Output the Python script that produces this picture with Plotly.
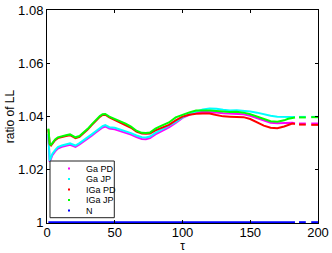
import plotly.graph_objects as go

# ---- data ----
tau = [1, 2, 3, 4, 6, 8, 11, 14, 17, 19, 21, 24, 27, 30, 33, 36, 39, 41, 43, 46,
       50, 54, 58, 62, 66, 70, 73, 76, 80, 83, 86, 90, 95, 100, 105, 110, 115, 120,
       125, 130, 135, 140, 145, 150, 155, 160, 165, 170, 175, 178, 181, 183,
       184, 186, 191, 193, 195, 200]

ga_pd = [1.0328, 1.0227, 1.0240, 1.0253, 1.0267, 1.0278, 1.0284, 1.0287, 1.0292, 1.0288,
         1.0284, 1.0293, 1.0303, 1.0315, 1.0326, 1.0338, 1.0350, 1.0357, 1.0361, 1.0353,
         1.0350, 1.0344, 1.0337, 1.0330, 1.0321, 1.0314, 1.0313, 1.0317, 1.0331, 1.0339,
         1.0347, 1.0357, 1.0374, 1.0393, 1.0405, 1.0413, 1.0416, 1.0416, 1.0414, 1.0411,
         1.0410, 1.0410, 1.0407, 1.0401, 1.0392, 1.0382, 1.0375, 1.0373, 1.0375, 1.0376,
         1.0375, 1.0373, None, 1.0372, 1.0372, None, 1.0372, 1.0372]

ga_jp = [1.0333, 1.0232, 1.0245, 1.0258, 1.0272, 1.0283, 1.0289, 1.0292, 1.0297, 1.0293,
         1.0289, 1.0298, 1.0308, 1.0320, 1.0331, 1.0343, 1.0355, 1.0362, 1.0366, 1.0358,
         1.0356, 1.0350, 1.0343, 1.0336, 1.0327, 1.0320, 1.0319, 1.0323, 1.0337, 1.0345,
         1.0352, 1.0362, 1.0378, 1.0395, 1.0408, 1.0417, 1.0425, 1.0429, 1.0428, 1.0424,
         1.0421, 1.0422, 1.0420, 1.0417, 1.0413, 1.0406, 1.0401, 1.0398, 1.0398, 1.0398,
         1.0398, 1.0397, None, 1.0397, 1.0397, None, 1.0397, 1.0397]

iga_pd = [1.0350, 1.0294, 1.0289, 1.0297, 1.0309, 1.0317, 1.0322, 1.0325, 1.0328, 1.0323,
          1.0317, 1.0322, 1.0335, 1.0349, 1.0366, 1.0382, 1.0397, 1.0404, 1.0405, 1.0395,
          1.0386, 1.0377, 1.0368, 1.0356, 1.0342, 1.0334, 1.0333, 1.0334, 1.0346, 1.0352,
          1.0358, 1.0367, 1.0384, 1.0398, 1.0405, 1.0409, 1.0410, 1.0410, 1.0404, 1.0399,
          1.0398, 1.0398, 1.0396, 1.0389, 1.0376, 1.0364, 1.0356, 1.0354, 1.0361, 1.0368,
          1.0372, 1.0370, None, 1.0368, 1.0368, None, 1.0367, 1.0367]

iga_jp = [1.0353, 1.0297, 1.0292, 1.0300, 1.0312, 1.0320, 1.0325, 1.0328, 1.0331, 1.0326,
          1.0320, 1.0325, 1.0338, 1.0352, 1.0369, 1.0385, 1.0400, 1.0407, 1.0408, 1.0398,
          1.0390, 1.0381, 1.0372, 1.0360, 1.0345, 1.0337, 1.0336, 1.0338, 1.0353, 1.0360,
          1.0367, 1.0376, 1.0395, 1.0406, 1.0414, 1.0421, 1.0422, 1.0421, 1.0419, 1.0417,
          1.0415, 1.0416, 1.0413, 1.0407, 1.0398, 1.0389, 1.0381, 1.0379, 1.0384, 1.0390,
          1.0394, 1.0395, None, 1.0395, 1.0395, None, 1.0396, 1.0396]

n_base = [1.0] * 52 + [None, 1.0, 1.0, None, 1.0, 1.0]

series_names = ["Ga PD", "Ga JP", "IGa PD", "IGa JP", "N"]
series_values = [ga_pd, ga_jp, iga_pd, iga_jp, n_base]
series_colors = ["#ff00ff", "#00ffff", "#ff0000", "#00ff00", "#0000ff"]

y_tickvals = [1.0, 1.02, 1.04, 1.06, 1.08]
y_ticktext = ["1", "1.02", "1.04", "1.06", "1.08"]
x_tickvals = [0, 50, 100, 150, 200]
x_ticktext = ["0", "50", "100", "150", "200"]

# ---- layout geometry (page pixels) ----
W, H = 332, 253
L, R, T, B = 47, 14, 10, 30
PW, PH = W - L - R, H - T - B


def px_x(px):
    return (px - L) / PW


def px_y(py):
    return (H - B - py) / PH


FONT = "Liberation Sans, Arial, Helvetica, sans-serif"

fig = go.Figure()
for name, vals, col in zip(series_names, series_values, series_colors):
    fig.add_trace(go.Scatter(
        x=tau, y=vals, mode="lines", name=name,
        line=dict(color=col, width=2), connectgaps=False, showlegend=False,
    ))

# ---- manual legend (box, dots, labels) ----
shapes = [dict(type="rect", xref="paper", yref="paper",
               x0=px_x(50), x1=px_x(114.3), y0=px_y(217.7), y1=px_y(161),
               line=dict(color="#222222", width=1), fillcolor="white", layer="above")]
annotations = []
row_y = [168.5, 179.0, 189.5, 200.0, 210.5]
for name, col, ry in zip(series_names, series_colors, row_y):
    shapes.append(dict(type="rect", xref="paper", yref="paper",
                       xsizemode="pixel", ysizemode="pixel",
                       xanchor=px_x(69), yanchor=px_y(ry),
                       x0=-1, x1=1, y0=-1, y1=1,
                       line=dict(width=0), fillcolor=col, layer="above"))
    annotations.append(dict(xref="paper", yref="paper", x=px_x(84), y=px_y(ry),
                            text=name, showarrow=False, xanchor="left", yanchor="middle",
                            font=dict(family=FONT, size=9, color="black")))

fig.update_layout(
    width=W, height=H,
    margin=dict(l=L, r=R, t=T, b=B, pad=0, autoexpand=False),
    paper_bgcolor="white", plot_bgcolor="white",
    showlegend=False,
    font=dict(family=FONT, size=13, color="black"),
    shapes=shapes, annotations=annotations,
)
fig.update_xaxes(
    range=[0, 200], tickvals=x_tickvals, ticktext=x_ticktext, automargin=False,
    ticks="inside", ticklen=3, tickcolor="black", showline=True, linecolor="black",
    linewidth=1, mirror="ticks", showgrid=False, zeroline=False,
    ticklabeloverflow="allow", ticklabelstandoff=-3,
    tickfont=dict(family=FONT, size=13, color="black"),
    title=dict(text="τ", font=dict(family=FONT, size=12, color="black"), standoff=8),
)
fig.update_yaxes(
    range=[0.9997, 1.08], tickvals=y_tickvals, ticktext=y_ticktext, automargin=False,
    ticks="inside", ticklen=3, tickcolor="black", showline=True, linecolor="black",
    linewidth=1, mirror="ticks", showgrid=False, zeroline=False,
    ticklabeloverflow="allow",
    tickfont=dict(family=FONT, size=13, color="black"),
    title=dict(text="ratio of LL", font=dict(family=FONT, size=12, color="black"), standoff=0),
)

fig.write_html("out.html", config={"displayModeBar": False},
               post_script="document.body.style.margin='0';document.body.style.overflow='hidden';")
